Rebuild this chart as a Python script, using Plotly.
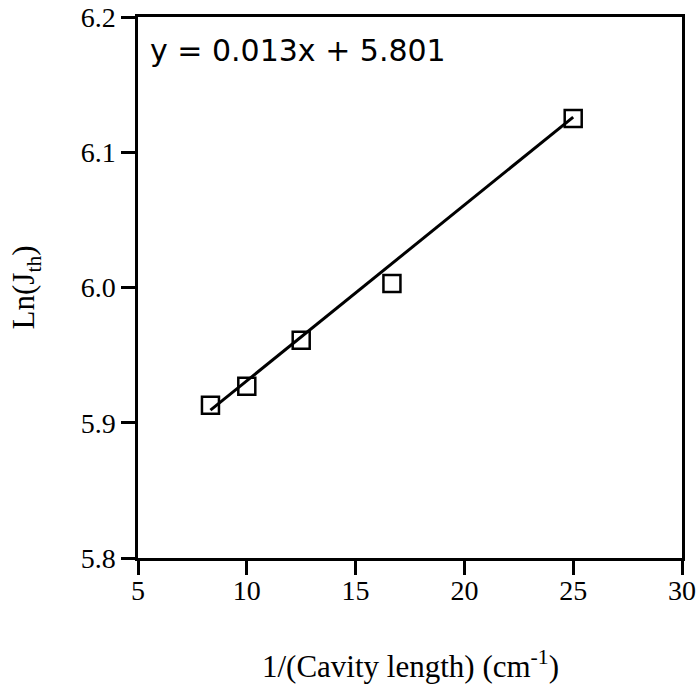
import plotly.graph_objects as go

# Data
inv_length = [8.33, 10.0, 12.5, 16.67, 25.0]
ln_jth = [5.913, 5.927, 5.961, 6.003, 6.125]

# Linear fit shown on the chart
fit_slope = 0.013
fit_intercept = 5.801

x_ticks = [5, 10, 15, 20, 25, 30]
y_ticks = [5.8, 5.9, 6.0, 6.1, 6.2]

fit_x = [min(inv_length), max(inv_length)]
fit_y = [fit_slope * v + fit_intercept for v in fit_x]

fig = go.Figure()
fig.add_trace(go.Scatter(x=fit_x, y=fit_y, mode="lines",
                         line=dict(color="black", width=3), showlegend=False))
fig.add_trace(go.Scatter(x=inv_length, y=ln_jth, mode="markers",
                         marker=dict(symbol="square-open", size=17,
                                     color="black", line=dict(width=2.5)),
                         showlegend=False))

serif = "Liberation Serif"

fig.update_layout(
    width=696, height=689,
    margin=dict(l=138, r=14, t=17, b=131),
    paper_bgcolor="white", plot_bgcolor="white",
    font=dict(family=serif, color="black", size=22),
    xaxis=dict(range=[5, 30], tickmode="array", tickvals=x_ticks,
               ticktext=[str(v) for v in x_ticks],
               automargin=False, ticklabelstandoff=-8,
               showgrid=False, zeroline=False, showline=True, linecolor="black",
               linewidth=2.5, mirror=True, ticks="outside", ticklen=14,
               tickwidth=2.5, tickcolor="black"),
    yaxis=dict(range=[5.8, 6.2], tickmode="array", tickvals=y_ticks,
               ticktext=["%.1f" % v for v in y_ticks],
               automargin=False,
               showgrid=False, zeroline=False, showline=True, linecolor="black",
               linewidth=2.5, mirror=True, ticks="outside", ticklen=14,
               tickwidth=2.5, tickcolor="black"),
    annotations=[
        dict(text="y = %.3fx + %.3f" % (fit_slope, fit_intercept),
             xref="paper", yref="paper", x=0.018, y=0.939,
             xanchor="left", yanchor="middle", showarrow=False,
             font=dict(family="DejaVu Sans", size=30, color="black")),
        dict(text="1/(Cavity length) (cm<sup>-1</sup>)",
             xref="paper", yref="paper", x=0.5, y=-0.197,
             xanchor="center", yanchor="middle", showarrow=False,
             font=dict(family=serif, size=31, color="black")),
        dict(text="Ln(J<sub>th</sub>)",
             xref="paper", yref="paper", x=-0.206, y=0.5,
             xanchor="center", yanchor="middle", showarrow=False, textangle=-90,
             font=dict(family=serif, size=31, color="black")),
    ],
)
fig.update_xaxes(tickfont_size=28)
fig.update_yaxes(tickfont_size=28)

fig.write_html("out.html")
